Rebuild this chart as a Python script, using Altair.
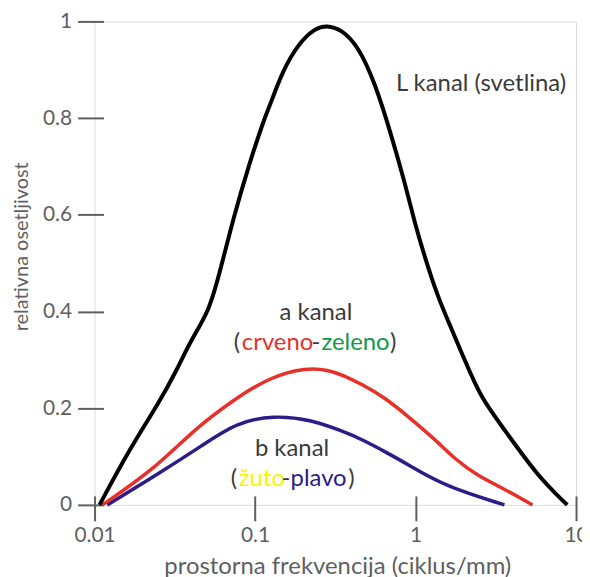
import altair as alt
import pandas as pd

# ---- data ----
freq_L = [0.01074, 0.01648, 0.02529, 0.0327, 0.03994, 0.05164, 0.06128, 0.07379, 0.09141,
          0.1132, 0.1269, 0.1464, 0.1866, 0.2378, 0.2782, 0.3447, 0.4395, 0.5602, 0.7036,
          0.8597, 0.991, 1.143, 1.377, 1.656, 2.024, 2.543, 3.58, 5.74, 8.81]
sens_L = [0.0, 0.115, 0.212, 0.280, 0.342, 0.399, 0.490, 0.597, 0.702,
          0.796, 0.835, 0.893, 0.955, 0.986, 0.992, 0.984, 0.949, 0.872, 0.767,
          0.665, 0.582, 0.512, 0.430, 0.368, 0.300, 0.222, 0.156, 0.060, 0.0]

freq_a = [0.0112, 0.0236, 0.0417, 0.0738, 0.125, 0.209, 0.286, 0.355, 0.459, 0.645,
          0.898, 1.318, 1.754, 2.44, 3.58, 5.35]
sens_a = [0.0, 0.074, 0.156, 0.218, 0.265, 0.284, 0.279, 0.268, 0.250, 0.222,
          0.183, 0.136, 0.095, 0.060, 0.033, 0.0]

freq_b = [0.012, 0.026, 0.046, 0.077, 0.131, 0.221, 0.355, 0.459, 0.656, 0.935, 1.52, 3.58]
sens_b = [0.0, 0.068, 0.121, 0.171, 0.185, 0.177, 0.152, 0.136, 0.109, 0.080, 0.039, 0.0]

x_ticks = [0.01, 0.1, 1, 10]
y_ticks = [0, 0.2, 0.4, 0.6, 0.8, 1]

FONT = "Lato"
GRAY = "#5f5f5f"
TXT = "#3a3a3a"
RED = "#e8302a"
BLUE = "#2d1b87"
GREEN = "#0e9a4a"
YELLOW = "#fff200"

dfL = pd.DataFrame({"f": freq_L, "v": sens_L})
dfa = pd.DataFrame({"f": freq_a, "v": sens_a})
dfb = pd.DataFrame({"f": freq_b, "v": sens_b})

xscale = alt.Scale(type="log", domain=[0.01, 10])
yscale = alt.Scale(domain=[0, 1])

xaxis = alt.Axis(values=x_ticks, format="~g", offset=-9, tickSize=25, domain=False,
                 grid=False, labelPadding=4, labelFlush=False, tickColor=GRAY, tickWidth=2,
                 labelColor=GRAY, labelFont=FONT, labelFontSize=21,
                 title="prostorna frekvencija (ciklus/mm)", titleFont=FONT,
                 titleFontSize=24, titleFontWeight="normal", titleColor=GRAY,
                 titleX=244, titleY=78, titleBaseline="alphabetic", titleAlign="center")
yaxis = alt.Axis(values=y_ticks, format="~g", offset=-9, tickSize=26, domain=False,
                 grid=False, labelPadding=6, labelFlush=False, tickColor=GRAY, tickWidth=2,
                 labelColor=GRAY, labelFont=FONT, labelFontSize=21,
                 title="relativna osetljivost", titleFont=FONT, titleFontSize=20,
                 titleFontWeight="normal", titleColor=GRAY, titleX=-82, titleY=226,
                 titleBaseline="middle", titleAlign="center", titleAngle=270)


def line(df, color, width):
    return alt.Chart(df).mark_line(color=color, strokeWidth=width,
                                   interpolate="basis").encode(
        x=alt.X("f:Q", scale=xscale, axis=xaxis),
        y=alt.Y("v:Q", scale=yscale, axis=yaxis),
    )


layers = [line(dfb, BLUE, 3.5), line(dfa, RED, 3.5), line(dfL, "black", 4)]

# annotations: (anchor f, anchor v, [(text, color, dx, align)])
annotations = [
    (2.56, 0.870, [("L kanal (svetlina)", TXT, 0, "center")]),
    (0.2395, 0.397, [("a kanal", TXT, 0, "center")]),
    (0.2395, 0.335, [("(", TXT, -82.5, "left"), ("crveno", RED, -74.5, "left"),
                     ("-", TXT, -4.5, "left"), ("zeleno", GREEN, 5.5, "left"),
                     (")", TXT, 74.5, "left")]),
    (0.170, 0.115, [("b kanal", TXT, 0, "center")]),
    (0.170, 0.053, [("(", TXT, -61.5, "left"), ("žuto", YELLOW, -53.5, "left"),
                    ("-", TXT, -10.5, "left"), ("plavo", BLUE, -1.5, "left"),
                    (")", TXT, 56.5, "left")]),
]
for f, v, pieces in annotations:
    pt = pd.DataFrame({"f": [f], "v": [v]})
    for text, color, dx, align in pieces:
        layers.append(
            alt.Chart(pt).mark_text(text=text, color=color, font=FONT, fontSize=24,
                                    align=align, baseline="middle", dx=dx).encode(
                x=alt.X("f:Q", scale=xscale, axis=xaxis),
                y=alt.Y("v:Q", scale=yscale, axis=yaxis),
            )
        )

chart = alt.layer(*layers).properties(
    width=484, height=486,
    autosize=alt.AutoSizeParams(type="none"),
    padding={"left": 87, "top": 12, "right": 6, "bottom": 71},
).configure_view(stroke=GRAY, strokeWidth=2).configure(background="white")

chart.save("out.html", embed_options={"renderer": "svg", "actions": False})
